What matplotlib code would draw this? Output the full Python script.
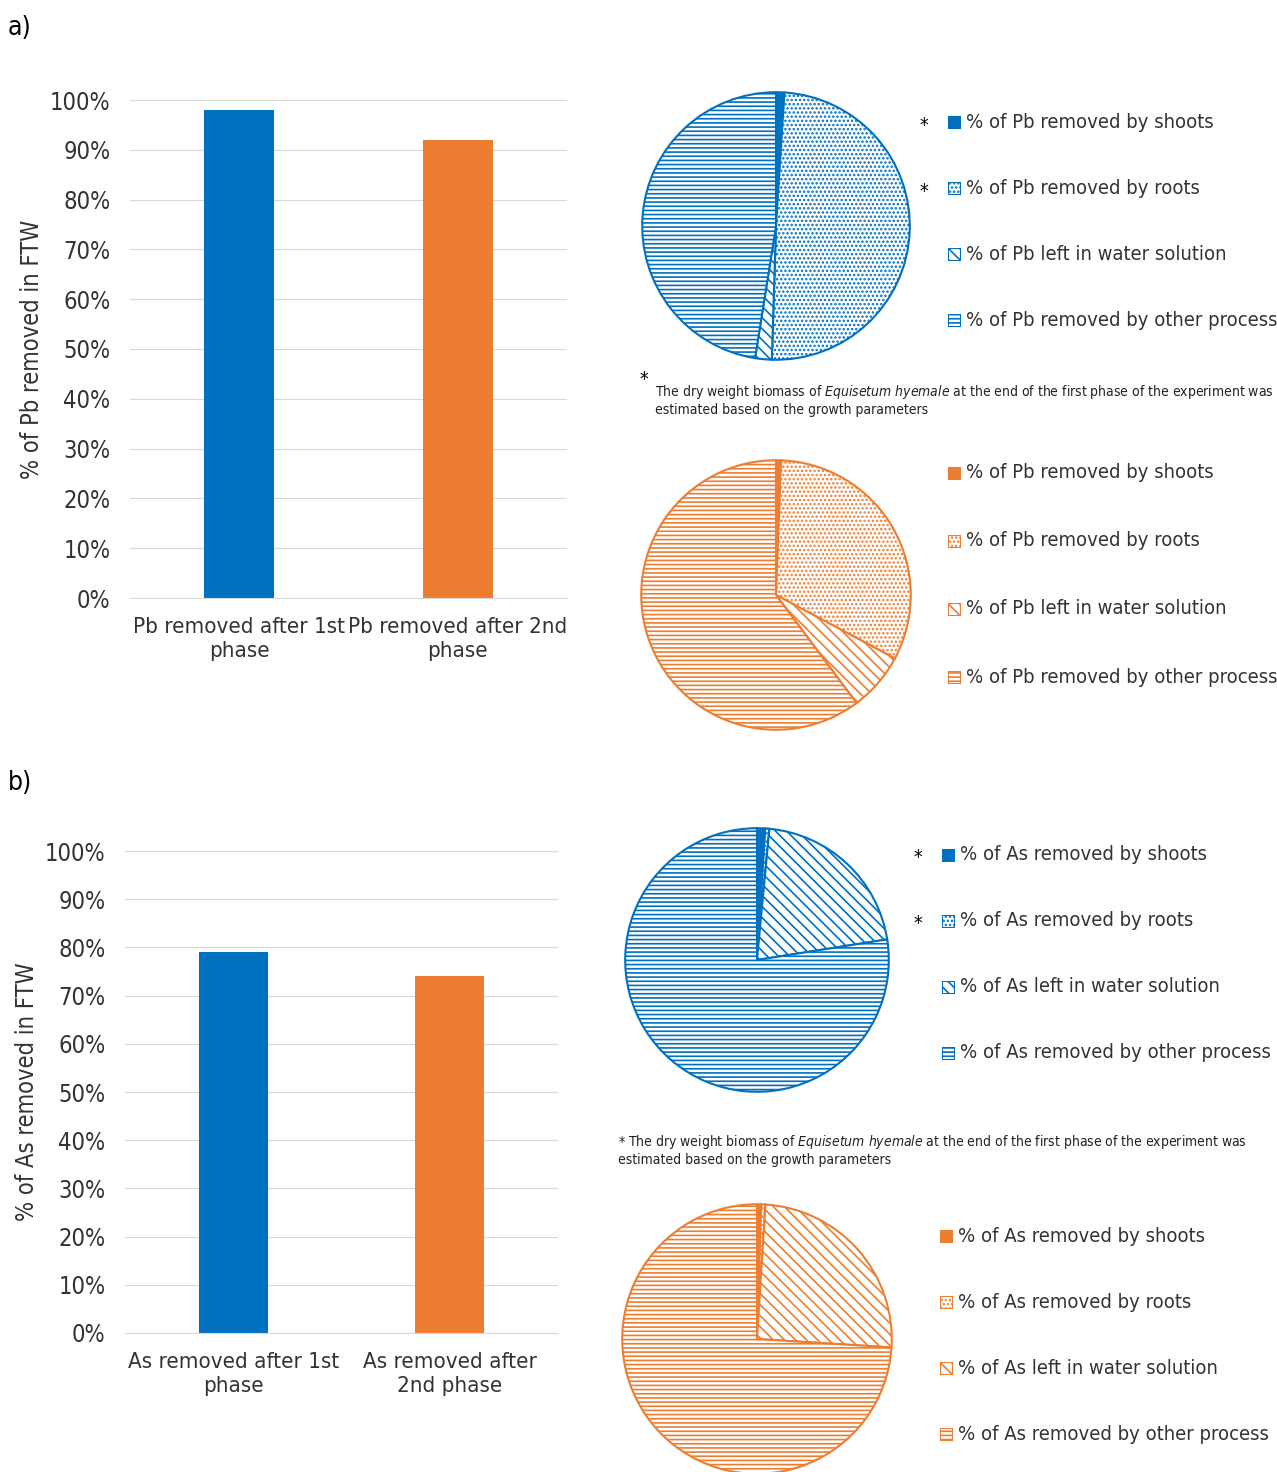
import matplotlib.pyplot as plt
from matplotlib.patches import Rectangle

plt.rcParams['font.family'] = ['DejaVu Sans']
plt.rcParams['font.stretch'] = 'condensed'
plt.rcParams['hatch.linewidth'] = 1.2

BLUE = "#0070C0"
ORANGE = "#ED7D31"

pb_bar_labels = ["Pb removed after 1st\nphase", "Pb removed after 2nd\nphase"]
pb_bar_values = [98, 92]
as_bar_labels = ["As removed after 1st\nphase", "As removed after\n2nd phase"]
as_bar_values = [79, 74]

# shoots, roots, left in water, other process
pb_pie1 = [1.0, 49.5, 2.0, 47.5]
pb_pie2 = [0.6, 32.2, 7.0, 60.2]
as_pie1 = [1.0, 0.5, 21.0, 77.5]
as_pie2 = [0.5, 0.5, 25.0, 74.0]

hatches = [None, "....", "\\\\\\", "----"]
W, H = 1277, 1472
fig = plt.figure(figsize=(W / 100, H / 100), dpi=100)


def ax_px(x0, y0, x1, y1):
    return fig.add_axes([x0 / W, 1 - y1 / H, (x1 - x0) / W, (y1 - y0) / H])


def bars(rect, labels, values, ylabel):
    ax = ax_px(*rect)
    ax.bar([0, 1], values, width=0.32, color=[BLUE, ORANGE])
    ax.set_xlim(-0.5, 1.5)
    ax.set_ylim(0, 100)
    ax.set_yticks(range(0, 101, 10))
    ax.set_yticklabels([f"{v}%" for v in range(0, 101, 10)], fontsize=17)
    ax.set_xticks([0, 1])
    ax.set_xticklabels(labels, fontsize=16)
    ax.grid(axis="y", color="#d9d9d9")
    ax.set_axisbelow(True)
    for s in ["top", "right", "left"]:
        ax.spines[s].set_visible(False)
    ax.spines["bottom"].set_color("#d9d9d9")
    ax.tick_params(length=0, pad=14, colors="#333333")
    ax.set_ylabel(ylabel, fontsize=17, color="#333333")


def pie(rect, values, color, metal, stars, leg_x, leg_y0, leg_dy):
    ax = ax_px(*rect)
    wedges, _ = ax.pie(values, startangle=90, counterclock=False, radius=1.2,
                       wedgeprops=dict(facecolor="white", edgecolor=color, linewidth=1.5))
    ax.set_xlim(-1.22, 1.22)
    ax.set_ylim(-1.22, 1.22)
    wedges[0].set_facecolor(color)
    for w, h in zip(wedges[1:], hatches[1:]):
        w.set_hatch(h)
    names = ["removed by shoots", "removed by roots", "left in water solution",
             "removed by other process"]
    for i, n in enumerate(names):
        y = leg_y0 + i * leg_dy
        sq = fig.add_axes([(leg_x - 18) / W, 1 - (y + 7) / H, 13 / W, 13 / H])
        sq.add_patch(Rectangle((0, 0), 1, 1, facecolor=color if i == 0 else "white",
                               edgecolor=color, hatch=hatches[i], lw=1.5))
        sq.set_xlim(0, 1)
        sq.set_ylim(0, 1)
        sq.axis("off")
        fig.text(leg_x / W, 1 - y / H, f"% of {metal} {n}", fontsize=14.5, va="center", color="#333333")
        if i in stars:
            fig.text((leg_x - 46) / W, 1 - (y + 3) / H, "*", fontsize=14, va="center")


fig.text(8 / W, 1 - 28 / H, "a)", fontsize=19, va="center")
fig.text(8 / W, 1 - 783 / H, "b)", fontsize=19, va="center")

bars((130, 100, 567, 598), pb_bar_labels, pb_bar_values, "% of Pb removed in FTW")
bars((125, 851, 558, 1333), as_bar_labels, as_bar_values, "% of As removed in FTW")

pie((640, 90, 912, 362), pb_pie1, BLUE, "Pb", [0, 1], 966, 122, 66)
pie((638, 458, 914, 732), pb_pie2, ORANGE, "Pb", [], 966, 473, 68)
pie((620, 826, 894, 1094), as_pie1, BLUE, "As", [0, 1], 960, 855, 66)
pie((618, 1202, 896, 1476), as_pie2, ORANGE, "As", [], 958, 1236, 66)

note1 = "The dry weight biomass of $\\it{Equisetum\\ hyemale}$ at the end of the first phase of the experiment was\nestimated based on the growth parameters"
fig.text(655 / W, 1 - 400 / H, note1, fontsize=10, va="center", color="#222222")
fig.text(640 / W, 1 - 380 / H, "*", fontsize=14, va="center")
fig.text(618 / W, 1 - 1150 / H, "* " + note1, fontsize=10, va="center", color="#222222")

fig.savefig("out.png", dpi=100)
